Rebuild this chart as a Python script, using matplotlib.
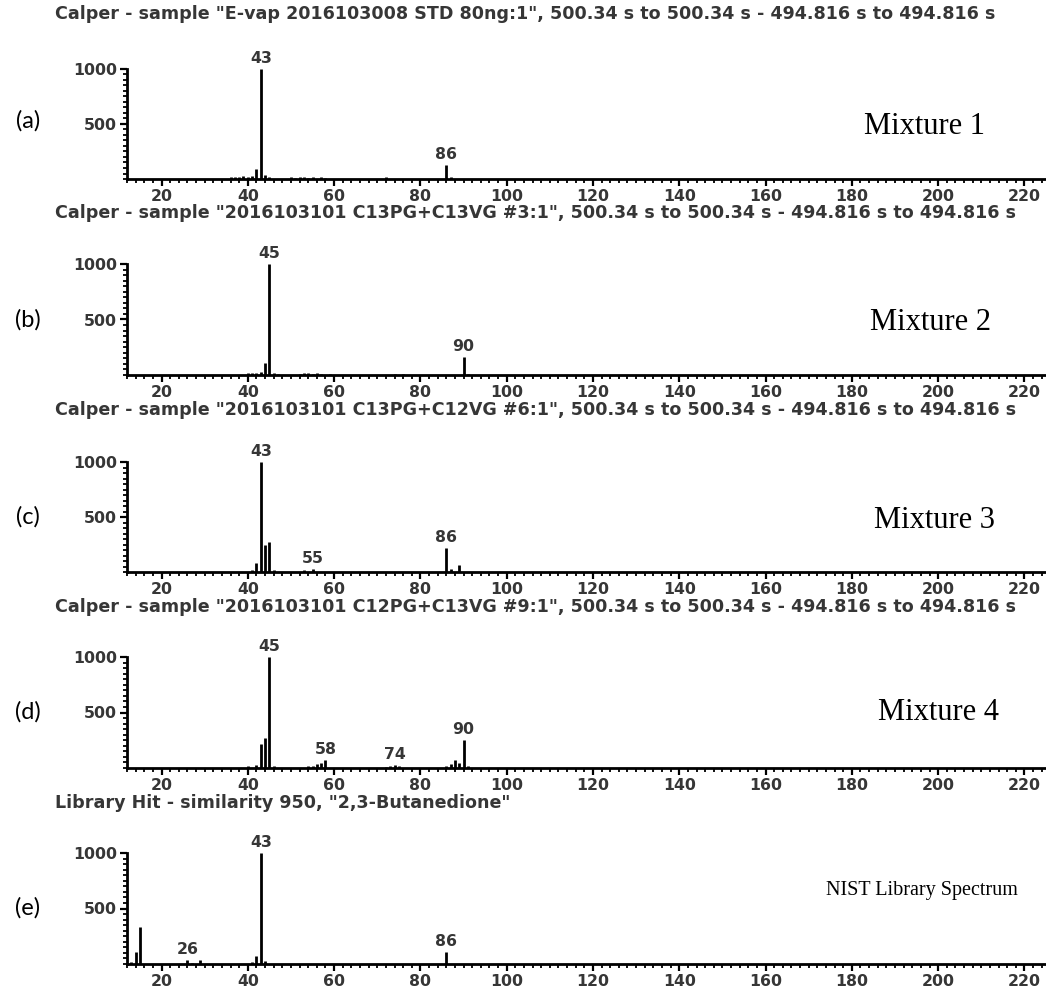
import matplotlib
matplotlib.use("Agg")
import matplotlib.pyplot as plt
from matplotlib.ticker import MultipleLocator, FixedLocator

# ---- spectra (m/z, relative abundance) ----
mz_a = [36, 37, 38, 39, 40, 41, 42, 43, 44, 45, 50, 51, 52, 53, 54, 55, 57, 58, 72, 86, 87]
ab_a = [15, 20, 18, 25, 15, 30, 91, 1000, 35, 20, 15, 12, 15, 20, 12, 15, 20, 10, 15, 127, 15]

mz_b = [40, 41, 42, 43, 44, 45, 46, 47, 52, 53, 54, 55, 56, 57, 59, 74, 76, 90, 91]
ab_b = [15, 15, 20, 30, 112, 1000, 20, 10, 12, 15, 15, 12, 15, 12, 10, 12, 12, 160, 12]

mz_c = [41, 42, 43, 44, 45, 46, 53, 55, 86, 87, 89]
ab_c = [20, 82, 1000, 242, 273, 20, 15, 25, 218, 27, 60]

mz_d = [40, 42, 43, 44, 45, 46, 54, 55, 56, 57, 58, 72, 73, 74, 75, 86, 87, 88, 89, 90, 91]
ab_d = [20, 30, 219, 270, 1000, 15, 15, 20, 35, 48, 70, 12, 15, 30, 15, 15, 35, 70, 45, 250, 15]

mz_e = [13, 14, 15, 26, 27, 29, 41, 42, 43, 44, 86]
ab_e = [15, 111, 337, 36, 10, 36, 20, 72, 1000, 30, 108]

labels_a = [43, 86]
labels_b = [45, 90]
labels_c = [43, 55, 86]
labels_d = [45, 58, 74, 90]
labels_e = [26, 43, 86]

titles = [
    'Calper - sample "E-vap 2016103008 STD 80ng:1", 500.34 s to 500.34 s - 494.816 s to 494.816 s',
    'Calper - sample "2016103101 C13PG+C13VG #3:1", 500.34 s to 500.34 s - 494.816 s to 494.816 s',
    'Calper - sample "2016103101 C13PG+C12VG #6:1", 500.34 s to 500.34 s - 494.816 s to 494.816 s',
    'Calper - sample "2016103101 C12PG+C13VG #9:1", 500.34 s to 500.34 s - 494.816 s to 494.816 s',
    'Library Hit - similarity 950, "2,3-Butanedione"',
]
panel_tags = ["(a)", "(b)", "(c)", "(d)", "(e)"]
sample_names = ["Mixture 1", "Mixture 2", "Mixture 3", "Mixture 4", "NIST Library Spectrum"]

x_ticks = list(range(20, 221, 20))
y_ticks = [500, 1000]

spectra = [(mz_a, ab_a, labels_a), (mz_b, ab_b, labels_b), (mz_c, ab_c, labels_c),
           (mz_d, ab_d, labels_d), (mz_e, ab_e, labels_e)]

# ---- layout (pixels) ----
W, H = 1046, 989
left_px, right_px = 127, 1046
tops = [69, 264, 462, 657, 853]
bases = [179, 375, 572, 768, 964]
title_y = [14, 213, 410, 607, 803]
tag_y = [121, 320, 517, 712, 908]
name_x = [925, 930, 935, 939, 922]
name_y = [127, 323, 520, 713, 890]
name_size = [22, 22, 22, 22, 14.5]

ink = "#363636"
tick_size = 11.3
tick_font = dict(family="DejaVu Sans", weight="bold", size=tick_size, color=ink)

fig = plt.figure(figsize=(W / 100, H / 100), dpi=100)
fig.patch.set_facecolor("white")

for i, (mz, ab, lab) in enumerate(spectra):
    ax = fig.add_axes([left_px / W, 1 - bases[i] / H,
                       (right_px - left_px) / W, (bases[i] - tops[i]) / H])
    ax.set_xlim(12, 225)
    ax.set_ylim(0, 1000)
    ax.vlines(mz, 0, ab, color="black", lw=2.0, clip_on=False)
    for m in lab:
        v = ab[mz.index(m)]
        ax.annotate(str(m), (m, v), xytext=(0, 2), textcoords="offset points",
                    ha="center", va="bottom", **tick_font)

    for s in ("top", "right"):
        ax.spines[s].set_visible(False)
    for s in ("left", "bottom"):
        ax.spines[s].set_linewidth(2.0)
        ax.spines[s].set_color("black")

    ax.xaxis.set_major_locator(FixedLocator(x_ticks))
    ax.xaxis.set_minor_locator(MultipleLocator(2))
    ax.yaxis.set_major_locator(FixedLocator(y_ticks))
    ax.yaxis.set_minor_locator(MultipleLocator(50))
    ax.tick_params(which="major", direction="out", length=5, width=1.6, color="black", pad=2)
    ax.tick_params(which="minor", direction="out", length=3, width=1.3, color="black")
    ax.set_xticklabels([str(t) for t in x_ticks])
    ax.set_yticklabels([str(t) for t in y_ticks])
    for t in ax.get_xticklabels() + ax.get_yticklabels():
        t.set_fontfamily("DejaVu Sans")
        t.set_fontweight("bold")
        t.set_fontsize(tick_size)
        t.set_color(ink)
    ax.patch.set_alpha(0)

    fig.text(55 / W, 1 - title_y[i] / H, titles[i], ha="left", va="center",
             family="DejaVu Sans", weight="bold", size=12.6, color=ink)
    fig.text(28 / W, 1 - tag_y[i] / H, panel_tags[i], ha="center", va="center",
             family="Lato", size=17, color="black")
    fig.text(name_x[i] / W, 1 - name_y[i] / H, sample_names[i], ha="center", va="center",
             family="Liberation Serif", size=name_size[i], color="black")

fig.savefig("out.png", dpi=100, facecolor="white")
